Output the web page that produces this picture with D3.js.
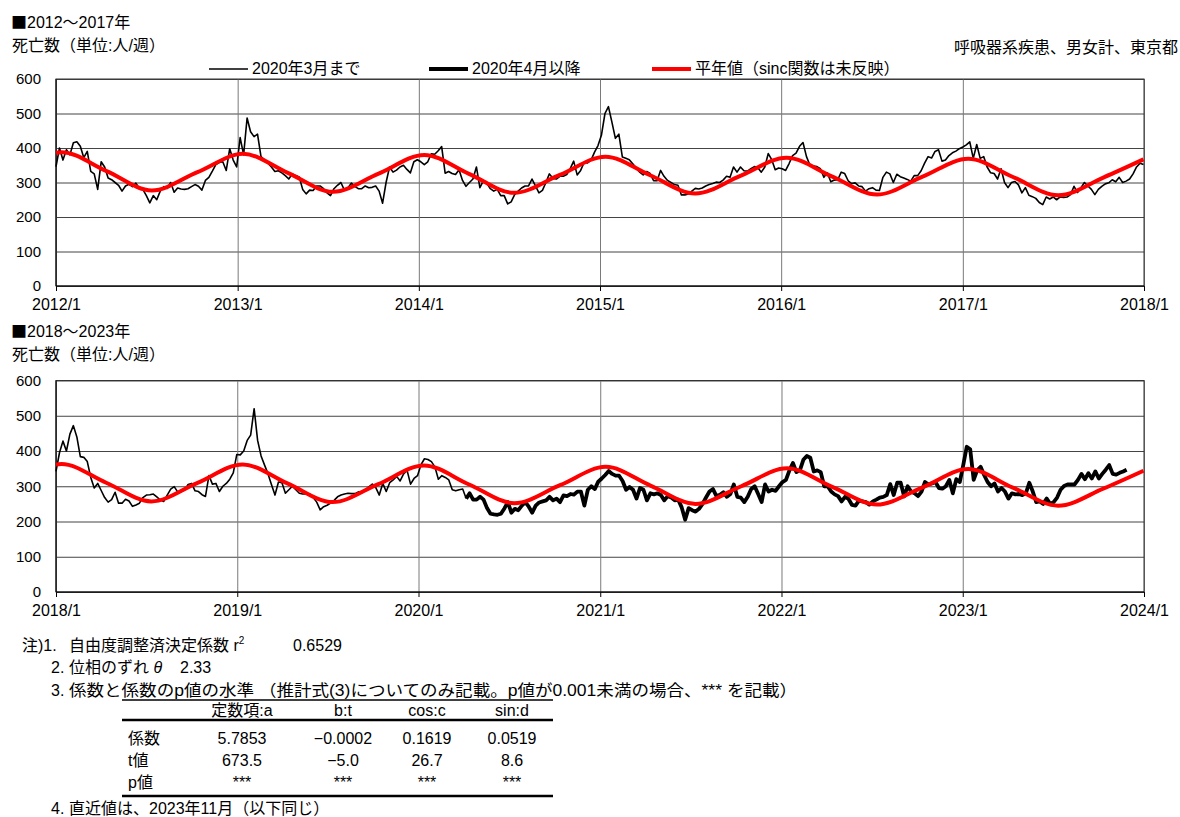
<!DOCTYPE html>
<html lang="ja">
<head>
<meta charset="utf-8">
<script src="https://cdn.jsdelivr.net/npm/d3@7"></script>
<style>
  body { margin: 0; background: #fff; }
  svg text { font-family: "Liberation Sans", "Noto Sans CJK JP", sans-serif; fill: #000; }
  .cjk { font-family: "Noto Sans CJK JP", sans-serif; }
</style>
</head>
<body>
<svg id="drawing_region"></svg>
<script>
// 週別死亡数 2012/1 ～ 2017/12 (1週ずつ)
const weekly2012 = [
  346,400,365,395,380,415,418,405,372,390, 332,325,280,360,345,313,308,300,292,275,
  290,295,288,298,282,280,262,241,262,250, 275,288,283,300,272,284,281,280,282,288,
  294,289,278,306,315,333,352,358,360,335, 398,365,
  345,430,380,487,447,433,440,375,366,356, 345,332,334,328,320,310,325,320,316,280,
  267,278,277,290,290,282,270,262,282,292, 300,278,284,298,289,282,282,290,285,286,
  290,275,240,300,345,330,336,345,350,338, 328,360,
  366,360,352,360,383,382,392,404,327,332, 326,323,337,306,289,300,310,345,285,305,
  298,282,275,280,262,262,238,244,265,275, 284,290,290,310,290,270,277,300,325,312,
  310,318,318,323,340,362,322,335,358,357, 365,388,
  407,438,500,520,475,428,440,374,370,366, 354,342,330,322,332,326,305,305,335,318,
  306,300,294,292,264,264,267,275,283,281, 284,290,294,297,301,300,307,318,315,345,
  330,345,334,333,340,346,343,330,345,384, 366,337,
  342,340,335,355,378,385,405,416,375,350, 348,346,340,315,328,302,307,308,330,326,
  305,297,299,290,288,275,282,285,278,277, 315,330,325,300,324,317,313,309,304,320,
  320,334,356,375,371,390,395,362,365,378, 386,391,
  398,403,409,418,370,410,370,375,345,328, 326,310,340,300,285,300,303,293,270,285,
  263,259,254,242,236,258,252,258,250,258, 257,258,265,289,271,285,300,290,280,265,
  280,289,296,299,308,302,315,300,304,310, 325,345,356,352
];

// 週別死亡数 2018/1 ～ 2023/11
const weekly2018 = [
  342,395,428,400,448,472,440,384,382,370, 325,295,308,288,268,255,262,283,252,252,
  263,258,243,247,252,268,275,276,278,270, 261,257,275,292,299,284,285,289,305,308,
  287,285,276,271,330,306,308,285,300,308, 320,338,
  390,389,400,430,445,520,430,386,360,335, 304,275,312,310,280,290,300,290,280,278,
  278,278,268,255,233,242,246,252,260,270, 275,278,280,279,279,284,282,290,298,306,
  296,275,308,285,310,318,328,315,335,345, 306,322,
  330,361,378,376,370,355,320,330,325,318, 290,287,290,292,265,280,262,262,270,262,
  238,222,220,219,222,237,255,225,236,232, 245,255,242,225,245,254,257,260,270,260,
  265,255,274,272,278,276,285,285,245,290, 300,292,
  313,322,332,343,335,330,330,315,290,298, 290,265,295,290,260,280,277,280,275,260,
  272,268,260,262,240,205,238,232,228,236, 250,268,285,292,272,276,283,270,278,305,
  270,268,255,270,292,300,278,255,305,285, 290,287,
  300,312,318,345,366,340,345,375,386,381, 342,345,340,300,300,285,277,272,257,270,
  264,247,245,259,257,255,248,257,262,268, 270,275,306,275,310,310,271,300,285,280,
  272,285,312,305,308,312,295,293,300,318, 280,320,
  312,360,412,405,318,345,355,332,312,300, 308,285,295,285,265,280,277,278,275,280,
  310,285,255,257,250,265,250,255,268,290, 301,305,305,305,318,335,320,337,322,342,
  322,335,347,360,335,333,338,342,347
];

// 平年値
const trendTopDates = [
  "2012-01-01","2012-01-12","2012-04-12","2012-07-12","2012-10-12",
  "2013-01-12","2013-04-12","2013-07-12","2013-10-12",
  "2014-01-12","2014-04-12","2014-07-12","2014-10-12",
  "2015-01-12","2015-04-12","2015-07-12","2015-10-12",
  "2016-01-12","2016-04-12","2016-07-12","2016-10-12",
  "2017-01-12","2017-04-12","2017-07-12","2017-10-12","2017-12-31"
];
const trendTopValues = [
  386,388,333,277,330,
  383,328,273,326,
  380,325,270,322,
  375,321,268,320,
  372,318,265,317,
  369,316,263,315,367
];
const trendBottomDates = [
  "2018-01-01","2018-01-12","2018-04-12","2018-07-12","2018-10-12",
  "2019-01-12","2019-04-12","2019-07-12","2019-10-12",
  "2020-01-12","2020-04-12","2020-07-12","2020-10-12",
  "2021-01-12","2021-04-12","2021-07-12","2021-10-12",
  "2022-01-12","2022-04-12","2022-07-12","2022-10-12",
  "2023-01-12","2023-04-12","2023-07-12","2023-10-12","2023-12-31"
];
const trendBottomValues = [
  362,363,310,257,309,
  362,308,255,306,
  359,305,252,303,
  355,302,250,300,
  351,299,248,297,
  349,296,245,294,344
];

const yTicks = [0, 100, 200, 300, 400, 500, 600];
const xTicksTop = ["2012/1","2013/1","2014/1","2015/1","2016/1","2017/1","2018/1"];
const xTicksBottom = ["2018/1","2019/1","2020/1","2021/1","2022/1","2023/1","2024/1"];

const legendLabels = ["2020年3月まで", "2020年4月以降", "平年値（sinc関数は未反映）"];

const tableColumns = ["定数項:a", "b:t", "cos:c", "sin:d"];
const tableRowLabels = ["係数", "t値", "p値"];
const tableCoef = ["5.7853", "\u22120.0002", "0.1619", "0.0519"];
const tableTvalue = ["673.5", "\u22125.0", "26.7", "8.6"];
const tablePvalue = ["***", "***", "***", "***"];

const parseDay = d3.timeParse("%Y-%m-%d");
const parseTick = d3.timeParse("%Y/%m");
const cutoff = parseDay("2020-04-01");

function weeklySeries(startText, values) {
    const start = parseDay(startText);
    return values.map((v, i) => ({ date: d3.timeDay.offset(start, 7 * i), value: v }));
}
function pointSeries(dates, values) {
    return dates.map((t, i) => ({ date: parseDay(t), value: values[i] }));
}

class WeeklyChart {

    constructor( config, data ) {
        this.config = {
            svg: config.svg,
            left: config.left || 56,
            right: config.right || 1144,
            top: config.top,
            bottom: config.bottom,
            xticks: config.xticks,
            title: config.title,
            titleY: config.titleY
        };
        this.data = data;
        this.init();
    }

    init() {
        let self = this;
        const c = self.config;

        self.chart = c.svg.append('g');

        const title = self.chart.append('text')
            .attr('x', 11).attr('y', c.titleY)
            .style('font-size', '16px');
        title.append('tspan').attr('class', 'cjk').text('■');
        title.append('tspan').text(c.title);

        self.chart.append('text')
            .attr('x', 12).attr('y', c.titleY + 23)
            .style('font-size', '16px')
            .text('死亡数（単位:人/週）');

        self.tickDates = c.xticks.map(t => parseTick(t));

        self.xscale = d3.scaleTime()
            .domain( [self.tickDates[0], self.tickDates[self.tickDates.length - 1]] )
            .range( [c.left, c.right] );

        self.yscale = d3.scaleLinear()
            .domain( [0, 600] )
            .range( [c.bottom, c.top] );

        self.line = d3.line()
            .x( d => self.xscale(d.date) )
            .y( d => self.yscale(d.value) );

        self.trendLine = d3.line()
            .x( d => self.xscale(d.date) )
            .y( d => self.yscale(d.value) )
            .curve(d3.curveMonotoneX);
    }

    render() {
        let self = this;
        const c = self.config;

        // 横の目盛線と目盛ラベル
        const ygrid = self.chart.append('g')
            .attr('transform', `translate(${c.left}, 0)`)
            .call( d3.axisLeft(self.yscale)
                .tickValues(yTicks)
                .tickSize(-(c.right - c.left))
                .tickPadding(15) );
        ygrid.select('.domain').remove();
        ygrid.selectAll('line').attr('stroke', '#444');
        ygrid.selectAll('text')
            .style('font-size', '15px')
            .attr('font-family', null);

        // 縦の目盛線
        const xgrid = self.chart.append('g')
            .attr('transform', `translate(0, ${c.bottom})`)
            .call( d3.axisBottom(self.xscale)
                .tickValues(self.tickDates)
                .tickSize(-(c.bottom - c.top))
                .tickFormat('') );
        xgrid.select('.domain').remove();
        xgrid.selectAll('line').attr('stroke', '#7a7a7a');

        const xaxis = self.chart.append('g')
            .attr('transform', `translate(0, ${c.bottom})`)
            .call( d3.axisBottom(self.xscale)
                .tickValues(self.tickDates)
                .tickSize(5)
                .tickPadding(8)
                .tickFormat( (d, i) => c.xticks[i] ) );
        xaxis.select('.domain').remove();
        xaxis.selectAll('line').attr('stroke', '#000');
        xaxis.selectAll('text')
            .style('font-size', '16px')
            .attr('font-family', null);

        // 枠
        self.chart.append('rect')
            .attr('x', c.left).attr('y', c.top)
            .attr('width', c.right - c.left)
            .attr('height', c.bottom - c.top)
            .attr('fill', 'none')
            .attr('stroke', '#333');
        self.chart.append('path')
            .attr('d', `M${c.left},${c.top}V${c.bottom}H${c.right}`)
            .attr('fill', 'none')
            .attr('stroke', '#000');

        // 実績値
        const before = self.data.weekly.filter(d => d.date < cutoff);
        const after = self.data.weekly.filter(d => d.date >= cutoff);
        if (after.length > 0) before.push(after[0]);

        self.chart.append('path')
            .datum(before)
            .attr('d', self.line)
            .attr('fill', 'none')
            .attr('stroke', '#000')
            .attr('stroke-width', 1.6)
            .attr('stroke-linejoin', 'round');

        if (after.length > 0) {
            self.chart.append('path')
                .datum(after)
                .attr('d', self.line)
                .attr('fill', 'none')
                .attr('stroke', '#000')
                .attr('stroke-width', 3.8)
                .attr('stroke-linejoin', 'round');
        }

        // 平年値
        self.chart.append('path')
            .datum(self.data.trend)
            .attr('d', self.trendLine)
            .attr('fill', 'none')
            .attr('stroke', '#ff0000')
            .attr('stroke-width', 4);
    }
}

const svg = d3.select('#drawing_region')
    .attr('width', 1180)
    .attr('height', 817);

// 凡例と右上の注記
svg.append('text')
    .attr('x', 1178).attr('y', 53)
    .attr('text-anchor', 'end')
    .style('font-size', '16px')
    .text('呼吸器系疾患、男女計、東京都');

const legendItems = [
    { x: 209, width: 1.6, color: '#000' },
    { x: 429, width: 3.8, color: '#000' },
    { x: 652, width: 4, color: '#ff0000' }
];
const legend = svg.append('g');
legend.selectAll('line')
    .data(legendItems)
    .join('line')
    .attr('x1', d => d.x).attr('x2', d => d.x + 39)
    .attr('y1', 69).attr('y2', 69)
    .attr('stroke', d => d.color)
    .attr('stroke-width', d => d.width);
legend.selectAll('text')
    .data(legendItems)
    .join('text')
    .attr('x', d => d.x + 43)
    .attr('y', 74)
    .style('font-size', '16px')
    .text((d, i) => legendLabels[i]);

const topChart = new WeeklyChart( {
    svg: svg, top: 79, bottom: 286,
    xticks: xTicksTop, title: '2012～2017年', titleY: 28
}, {
    weekly: weeklySeries('2012-01-01', weekly2012),
    trend: pointSeries(trendTopDates, trendTopValues)
} );
topChart.render();

const bottomChart = new WeeklyChart( {
    svg: svg, top: 380.5, bottom: 592,
    xticks: xTicksBottom, title: '2018～2023年', titleY: 337
}, {
    weekly: weeklySeries('2018-01-01', weekly2018),
    trend: pointSeries(trendBottomDates, trendBottomValues)
} );
bottomChart.render();

// 注記
const notes = svg.append('g').style('font-size', '16px');

notes.append('text').attr('x', 22).attr('y', 651).text('注)1.');
const n1 = notes.append('text').attr('x', 69).attr('y', 651);
n1.append('tspan').text('自由度調整済決定係数 r');
n1.append('tspan').attr('dy', -7).style('font-size', '10px').text('2');
notes.append('text').attr('x', 293).attr('y', 651).text('0.6529');

notes.append('text').attr('x', 51).attr('y', 673).text('2.');
const n2 = notes.append('text').attr('x', 69).attr('y', 673);
n2.append('tspan').text('位相のずれ ');
n2.append('tspan').style('font-style', 'italic').text('θ');
notes.append('text').attr('x', 180).attr('y', 673).text('2.33');

notes.append('text').attr('x', 51).attr('y', 696).text('3.');
notes.append('text').attr('x', 69).attr('y', 696)
    .attr('textLength', 728)
    .attr('lengthAdjust', 'spacingAndGlyphs')
    .text('係数と係数のp値の水準 （推計式(3)についてのみ記載。p値が0.001未満の場合、*** を記載）');

notes.append('text').attr('x', 51).attr('y', 814).text('4.');
notes.append('text').attr('x', 69).attr('y', 814).text('直近値は、2023年11月（以下同じ）');

// 係数の表
const colX = [242, 343, 427, 512];
const table = svg.append('g').style('font-size', '16px');
table.append('line').attr('x1', 122).attr('x2', 553).attr('y1', 700).attr('y2', 700)
    .attr('stroke', '#000').attr('stroke-width', 1.5);
table.append('line').attr('x1', 122).attr('x2', 553).attr('y1', 720).attr('y2', 720)
    .attr('stroke', '#000').attr('stroke-width', 2.5);
table.append('line').attr('x1', 122).attr('x2', 553).attr('y1', 796).attr('y2', 796)
    .attr('stroke', '#000').attr('stroke-width', 2.5);

table.selectAll('.head')
    .data(tableColumns)
    .join('text')
    .attr('class', 'head')
    .attr('x', (d, i) => colX[i]).attr('y', 716)
    .attr('text-anchor', 'middle')
    .text(d => d);

const rows = [tableCoef, tableTvalue, tablePvalue];
rows.forEach( (row, r) => {
    const y = 744 + r * 22;
    table.append('text').attr('x', 128).attr('y', y).text(tableRowLabels[r]);
    table.selectAll('.row' + r)
        .data(row)
        .join('text')
        .attr('class', 'row' + r)
        .attr('x', (d, i) => colX[i]).attr('y', y)
        .attr('text-anchor', 'middle')
        .text(d => d);
});
</script>
</body>
</html>
